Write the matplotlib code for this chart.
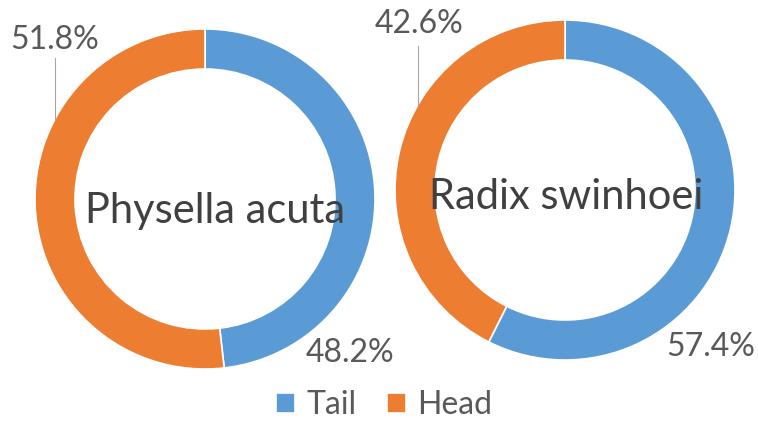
import matplotlib
matplotlib.use('Agg')
import matplotlib.pyplot as plt

plt.rcParams['font.family'] = ['Lato', 'DejaVu Sans']

# data
species = ['Physella acuta', 'Radix swinhoei']
parts = ['Tail', 'Head']
tail = [48.2, 57.4]
head = [51.8, 42.6]
colors = ['#5B9BD5', '#ED7D31']
txt_col = '#595959'

W, H = 758, 421
fig = plt.figure(figsize=(W / 100, H / 100), dpi=100)
ax = fig.add_axes([0, 0, 1, 1])

# layout (pixel coords, y from top)
centers = [(205, 199), (565, 190)]
R = 170
width = 40
name_pos = [(215, 211), (566, 197)]
tail_lab = [(350, 353), (711, 347)]
head_lab = [(55, 40), (419, 24)]
lead = [(55, 58, 119), (418, 46, 106)]

wedges_all = []
for i in range(2):
    cx, cy = centers[i]
    wedges, _ = ax.pie([tail[i], head[i]], colors=colors, startangle=90,
                       counterclock=False, radius=R, center=(cx, H - cy),
                       wedgeprops=dict(width=width, edgecolor='white', linewidth=1.2))
    wedges_all.append(wedges)
    ax.text(name_pos[i][0], H - name_pos[i][1], species[i], fontsize=30,
            color='#404040', ha='center', va='center')
    ax.text(tail_lab[i][0], H - tail_lab[i][1], f'{tail[i]:.1f}%', fontsize=23,
            color=txt_col, ha='center', va='center')
    ax.text(head_lab[i][0], H - head_lab[i][1], f'{head[i]:.1f}%', fontsize=23,
            color=txt_col, ha='center', va='center')
    x, y0, y1 = lead[i]
    ax.plot([x, x], [H - y0, H - y1], color='#a6a6a6', lw=0.8)

ax.set_xlim(0, W)
ax.set_ylim(0, H)
ax.set_aspect('auto')
ax.axis('off')

fig.legend(wedges_all[0], parts, loc='center', bbox_to_anchor=(384 / W, 16 / H),
           ncol=2, frameon=False, fontsize=23, handlelength=0.6, handleheight=0.6,
           handletextpad=0.35, columnspacing=0.95, labelcolor=txt_col)

fig.savefig('out.png', dpi=100)
